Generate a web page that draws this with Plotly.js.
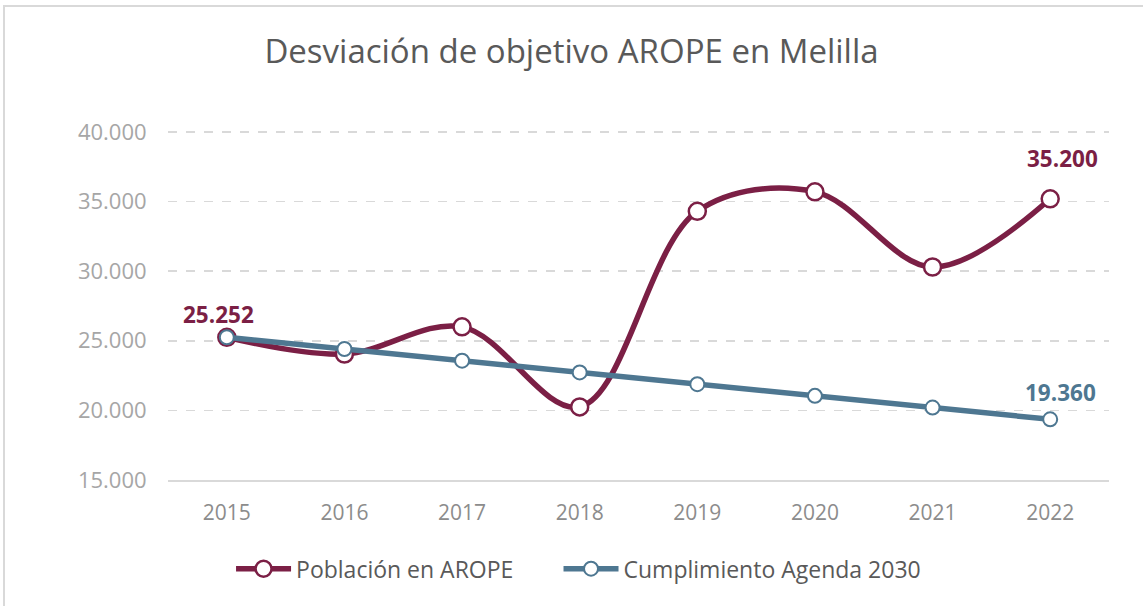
<!DOCTYPE html>
<html>
<head>
<meta charset="utf-8">
<script src="https://cdn.plot.ly/plotly-3.0.1.min.js"></script>
<style>
html,body{margin:0;padding:0;background:#fff;}
#frame{position:absolute;left:3px;top:5px;width:1150px;height:610px;border:2px solid #d9d9d9;box-sizing:border-box;}
#chart{position:absolute;left:0;top:0;width:1143px;height:606px;}
</style>
</head>
<body>
<div id="frame"></div>
<div id="chart"></div>
<script>
const years = ['2015','2016','2017','2018','2019','2020','2021','2022'];
const poblacionArope = [25252, 24050, 26000, 20250, 34300, 35700, 30300, 35200];
const cumplimientoAgenda = [25252, 24410, 23569, 22727, 21885, 21043, 20202, 19360];
const yTicks = [15000, 20000, 25000, 30000, 35000, 40000];
const labelsArope = ['25.252', '', '', '', '', '', '', '35.200'];
const labelsAgenda = ['', '', '', '', '', '', '', '19.360'];

const maroon = '#7b1f45';
const blue = '#4e7791';

const traces = [
  {
    x: years, y: poblacionArope, name: 'Población en AROPE',
    type: 'scatter', mode: 'lines+markers', legend: 'legend',
    line: {color: maroon, width: 5.5, shape: 'spline', smoothing: 1},
    marker: {symbol: 'circle', size: 17, color: '#ffffff', line: {color: maroon, width: 2.5}}
  },
  {
    x: years, y: cumplimientoAgenda, name: 'Cumplimiento Agenda 2030',
    type: 'scatter', mode: 'lines+markers', legend: 'legend2',
    line: {color: blue, width: 5.5},
    marker: {symbol: 'circle', size: 14, color: '#ffffff', line: {color: blue, width: 2}}
  }
];

const annotations = [];
years.forEach((yr, i) => {
  if (labelsArope[i]) {
    annotations.push({xref: 'x', yref: 'y', x: i, y: poblacionArope[i], text: '<b>' + labelsArope[i] + '</b>',
      showarrow: false, xshift: i === 0 ? -8 : 12, yshift: i === 0 ? 23 : 40,
      font: {family: 'Open Sans, sans-serif', size: 22.5, color: maroon}});
  }
  if (labelsAgenda[i]) {
    annotations.push({xref: 'x', yref: 'y', x: i, y: cumplimientoAgenda[i], text: '<b>' + labelsAgenda[i] + '</b>',
      showarrow: false, xshift: 10, yshift: 27,
      font: {family: 'Open Sans, sans-serif', size: 22.5, color: blue}});
  }
});

const legendFont = {family: 'Open Sans, sans-serif', size: 23, color: '#595959'};

const layout = {
  width: 1143, height: 606,
  paper_bgcolor: 'rgba(0,0,0,0)', plot_bgcolor: 'rgba(0,0,0,0)',
  separators: ',.',
  margin: {l: 168, r: 34, t: 125, b: 126},
  title: {text: 'Desviación de objetivo AROPE en Melilla', x: 0.5, xanchor: 'center', y: 0.915, yanchor: 'middle',
          font: {family: 'Open Sans, sans-serif', size: 33, color: '#595959'}},
  showlegend: true,
  legend: {orientation: 'h', x: 0.067, xanchor: 'left', y: -0.25, yanchor: 'middle', font: legendFont, itemwidth: 55},
  legend2: {orientation: 'h', x: 0.415, xanchor: 'left', y: -0.25, yanchor: 'middle', font: legendFont, itemwidth: 55},
  xaxis: {
    type: 'category', range: [-0.5, 7.5], showgrid: false, zeroline: false,
    showline: true, linecolor: '#d9d9d9', linewidth: 2,
    ticks: 'outside', ticklen: 13, tickcolor: 'rgba(0,0,0,0)',
    tickfont: {family: 'Open Sans, sans-serif', size: 21, color: '#8c8c8c'}
  },
  yaxis: {
    range: [15000, 40500], tickvals: yTicks, tickformat: ',d',
    showgrid: true, gridcolor: '#d9d9d9', griddash: 'dash', gridwidth: 1.5,
    zeroline: false, showline: false,
    ticks: 'outside', ticklen: 16, tickcolor: 'rgba(0,0,0,0)',
    tickfont: {family: 'Open Sans, sans-serif', size: 22, color: '#a6a6a6'}
  },
  annotations: annotations
};

Plotly.newPlot('chart', traces, layout, {displayModeBar: false, staticPlot: true});
</script>
</body>
</html>
